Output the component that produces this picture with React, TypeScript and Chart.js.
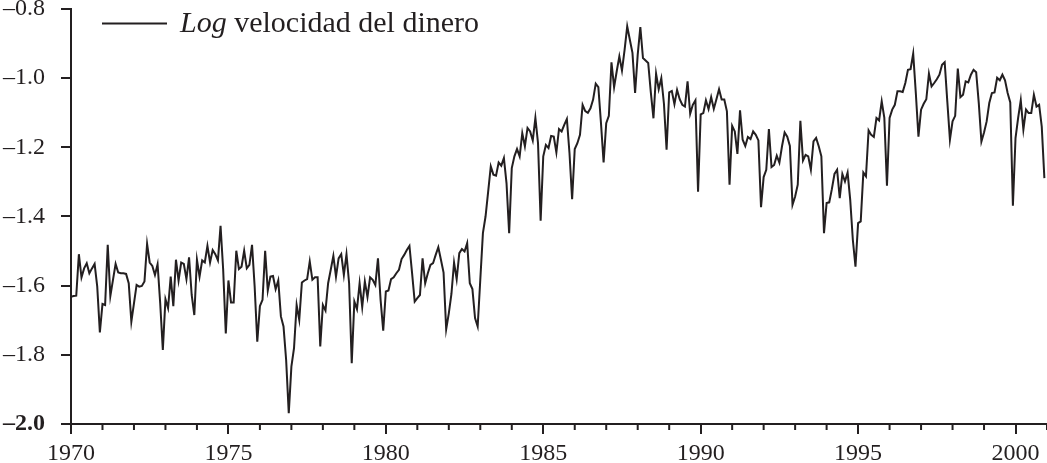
import React, { useEffect, useRef } from "react";
import { Chart, registerables } from "chart.js";

Chart.register(...registerables);

// ---- Data: monthly log velocity of money, Jan 1970 – Dec 2000 ----
const startYear = 1970;

const logVel1970s = [
  -1.632, -1.630, -1.629, -1.509, -1.576, -1.550, -1.535, -1.564, -1.550, -1.537, -1.603, -1.735,
  -1.653, -1.656, -1.482, -1.630, -1.583, -1.537, -1.562, -1.564, -1.564, -1.566, -1.593, -1.704,
  -1.651, -1.598, -1.603, -1.601, -1.588, -1.479, -1.533, -1.543, -1.569, -1.538, -1.651, -1.786,
  -1.639, -1.665, -1.574, -1.659, -1.525, -1.585, -1.533, -1.537, -1.581, -1.518, -1.627, -1.685,
  -1.525, -1.574, -1.527, -1.533, -1.485, -1.533, -1.497, -1.509, -1.527, -1.427, -1.554, -1.738,
  -1.585, -1.649, -1.649, -1.499, -1.552, -1.545, -1.499, -1.550, -1.540, -1.482, -1.603, -1.762,
  -1.659, -1.641, -1.499, -1.614, -1.574, -1.572, -1.610, -1.585, -1.689, -1.718, -1.815, -1.969,
  -1.834, -1.781, -1.656, -1.699, -1.591, -1.585, -1.581, -1.530, -1.583, -1.576, -1.576, -1.776,
  -1.656, -1.672, -1.593, -1.554, -1.514, -1.574, -1.521, -1.509, -1.569, -1.509, -1.593, -1.824,
  -1.646, -1.668, -1.593, -1.662, -1.588, -1.633, -1.576, -1.583, -1.598, -1.521, -1.641, -1.730,
];

const logVel1980s = [
  -1.617, -1.614, -1.581, -1.576, -1.564, -1.554, -1.523, -1.511, -1.497, -1.485, -1.564, -1.646,
  -1.636, -1.627, -1.521, -1.593, -1.564, -1.540, -1.535, -1.511, -1.489, -1.525, -1.562, -1.726,
  -1.680, -1.624, -1.533, -1.581, -1.506, -1.494, -1.501, -1.477, -1.593, -1.610, -1.694, -1.718,
  -1.583, -1.448, -1.400, -1.328, -1.255, -1.279, -1.282, -1.244, -1.253, -1.231, -1.304, -1.448,
  -1.260, -1.226, -1.205, -1.226, -1.159, -1.197, -1.144, -1.154, -1.180, -1.115, -1.188, -1.412,
  -1.226, -1.193, -1.202, -1.167, -1.169, -1.215, -1.147, -1.154, -1.135, -1.118, -1.217, -1.350,
  -1.205, -1.188, -1.164, -1.077, -1.095, -1.100, -1.087, -1.062, -1.016, -1.026, -1.130, -1.244,
  -1.130, -1.109, -0.954, -1.026, -0.980, -0.937, -0.978, -0.918, -0.850, -0.889, -0.927, -1.043,
  -0.932, -0.852, -0.942, -0.949, -0.956, -1.041, -1.116, -0.987, -1.032, -1.000, -1.074, -1.207,
  -1.041, -1.037, -1.075, -1.034, -1.061, -1.077, -1.082, -1.009, -1.103, -1.077, -1.064, -1.328,
];

const logVel1990s = [
  -1.105, -1.101, -1.064, -1.089, -1.055, -1.089, -1.061, -1.032, -1.062, -1.062, -1.096, -1.308,
  -1.138, -1.154, -1.219, -1.093, -1.178, -1.196, -1.170, -1.176, -1.154, -1.164, -1.180, -1.373,
  -1.286, -1.265, -1.147, -1.257, -1.251, -1.224, -1.244, -1.197, -1.157, -1.169, -1.196, -1.366,
  -1.342, -1.308, -1.123, -1.238, -1.222, -1.226, -1.265, -1.183, -1.173, -1.197, -1.226, -1.448,
  -1.361, -1.359, -1.321, -1.277, -1.265, -1.347, -1.277, -1.299, -1.273, -1.352, -1.468, -1.545,
  -1.419, -1.414, -1.273, -1.284, -1.151, -1.164, -1.170, -1.115, -1.122, -1.067, -1.115, -1.311,
  -1.115, -1.091, -1.077, -1.038, -1.038, -1.040, -1.014, -0.976, -0.974, -0.929, -1.043, -1.169,
  -1.091, -1.074, -1.061, -0.987, -1.024, -1.014, -1.003, -0.990, -0.961, -0.954, -1.067, -1.178,
  -1.125, -1.109, -0.972, -1.055, -1.048, -1.009, -1.012, -0.990, -0.976, -0.983, -1.072, -1.183,
  -1.157, -1.125, -1.072, -1.043, -1.041, -0.999, -1.006, -0.990, -1.006, -1.043, -1.070, -1.369,
];

const logVel2000 = [
  -1.173, -1.115, -1.064, -1.149, -1.091, -1.101, -1.101, -1.048, -1.082, -1.077, -1.140, -1.289,
];

const xMin = 1970;
const xMax = 2001;
const yMin = -2.0;
const yMax = -0.8;
const xMajorTicks = [1970, 1975, 1980, 1985, 1990, 1995, 2000];
const xMinorTicks = [
  1971, 1972, 1973, 1974, 1976, 1977, 1978, 1979, 1981, 1982, 1983, 1984,
  1986, 1987, 1988, 1989, 1991, 1992, 1993, 1994, 1996, 1997, 1998, 1999, 2001,
];
const yTicks = [-2.0, -1.8, -1.6, -1.4, -1.2, -1.0, -0.8];
const legendItalic = "Log";
const legendRest = " velocidad del dinero";

const INK = "#231f20";
const FONT = '"Liberation Serif", "Times New Roman", serif';

const minorTickPlugin = {
  id: "minorTicks",
  afterDraw(chart: any) {
    const xs = chart.scales.x;
    const ctx = chart.ctx;
    const y0 = xs.top;
    ctx.save();
    ctx.strokeStyle = INK;
    ctx.lineWidth = 2;
    ctx.beginPath();
    for (const v of xMinorTicks) {
      const px = xs.getPixelForValue(v);
      ctx.moveTo(px, y0);
      ctx.lineTo(px, y0 + 6);
    }
    ctx.stroke();
    ctx.restore();
  },
};

const legendPlugin = {
  id: "customLegend",
  afterDraw(chart: any) {
    const ctx = chart.ctx;
    ctx.save();
    ctx.strokeStyle = INK;
    ctx.lineWidth = 2;
    ctx.beginPath();
    ctx.moveTo(102, 23.5);
    ctx.lineTo(167, 23.5);
    ctx.stroke();
    ctx.fillStyle = INK;
    ctx.textBaseline = "alphabetic";
    ctx.textAlign = "left";
    ctx.font = `italic 30px ${FONT}`;
    ctx.fillText(legendItalic, 180, 31.5);
    const w = ctx.measureText(legendItalic).width;
    ctx.font = `30px ${FONT}`;
    ctx.fillText(legendRest, 180 + w, 31.5);
    ctx.restore();
  },
};

export default function App() {
  const canvasRef = useRef<HTMLCanvasElement | null>(null);

  useEffect(() => {
    const canvas = canvasRef.current;
    if (!canvas) return;
    const values = [...logVel1970s, ...logVel1980s, ...logVel1990s, ...logVel2000];
    const points = values.map((v, i) => ({ x: startYear + i / 12, y: v }));

    const chart = new Chart(canvas, {
      type: "line",
      data: {
        datasets: [
          {
            label: "Log velocidad del dinero",
            data: points,
            borderColor: INK,
            borderWidth: 2,
            pointRadius: 0,
            fill: false,
            tension: 0,
          },
        ],
      },
      options: {
        animation: false,
        responsive: false,
        devicePixelRatio: 1,
        layout: { padding: { top: 9, left: 0, right: 0, bottom: 0 } },
        plugins: { legend: { display: false }, tooltip: { enabled: false } },
        scales: {
          x: {
            type: "linear",
            min: xMin,
            max: xMax,
            afterBuildTicks: (s: any) => {
              s.ticks = xMajorTicks.map((v) => ({ value: v }));
            },
            afterFit: (s: any) => {
              s.height = 39;
              s.paddingLeft = 0;
              s.paddingRight = 0;
            },
            grid: {
              drawOnChartArea: false,
              drawTicks: true,
              tickLength: 10,
              color: INK,
              lineWidth: 2,
            },
            border: { display: true, color: INK, width: 2 },
            ticks: {
              color: INK,
              font: { family: FONT, size: 24 },
              padding: 5,
              maxRotation: 0,
              autoSkip: false,
              callback: (v: any) => String(v),
            },
          },
          y: {
            type: "linear",
            min: yMin,
            max: yMax,
            afterBuildTicks: (s: any) => {
              s.ticks = yTicks.map((v) => ({ value: v }));
            },
            afterFit: (s: any) => {
              s.width = 71;
              s.paddingTop = 0;
              s.paddingBottom = 0;
            },
            grid: {
              drawOnChartArea: false,
              drawTicks: true,
              tickLength: 10,
              color: INK,
              lineWidth: 2,
            },
            border: { display: true, color: INK, width: 2 },
            ticks: {
              color: INK,
              font: (c: any) => ({
                family: FONT,
                size: 24,
                weight: c.tick && Math.abs(c.tick.value - yMin) < 1e-9 ? "bold" : "normal",
              }),
              padding: 16,
              autoSkip: false,
              callback: (v: any) => "\u2013" + Math.abs(Number(v)).toFixed(1),
            },
          },
        },
      },
      plugins: [minorTickPlugin, legendPlugin],
    } as any);

    return () => chart.destroy();
  }, []);

  return (
    <div
      style={{
        position: "fixed",
        left: 0,
        top: 0,
        width: 1047,
        height: 463,
        background: "#fff",
      }}
    >
      <canvas ref={canvasRef} width={1047} height={463} style={{ display: "block" }} />
    </div>
  );
}
